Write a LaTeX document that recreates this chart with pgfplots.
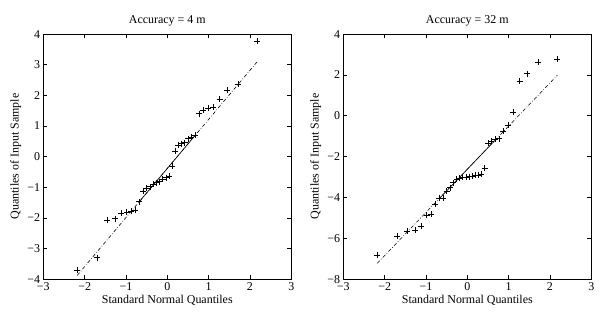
\documentclass[border=0pt]{standalone}
\usepackage{pgfplots}
\pgfplotsset{compat=1.18}
\usepackage{fontspec}
\setmainfont{Liberation Serif}
\begin{document}
\fontsize{12}{14}\selectfont
\begin{tikzpicture}
\pgfplotsset{
  qq/.style={
    scale only axis, width=248bp, height=245bp,
    xmin=-3, xmax=3,
    xtick={-3,-2,-1,0,1,2,3},
    xticklabels={−3,−2,−1,0,1,2,3},
    tick align=inside, xtick pos=both, ytick pos=both,
    major tick length=4bp,
    tick style={black, line width=0.5pt},
    axis line style={line width=0.6pt},
    xlabel={Standard Normal Quantiles},
    ylabel={Quantiles of Input Sample},
    xlabel style={yshift=3.5bp},
    ylabel style={yshift=-2bp},
    title style={yshift=-2bp},
    tick label style={font=\fontsize{12}{14}\selectfont},
    label style={font=\fontsize{12}{14}\selectfont},
    title style={font=\fontsize{12}{14}\selectfont},
    xticklabel style={yshift=1bp},
    yticklabel style={xshift=1bp, inner ysep=0pt, text height=8bp, text depth=0pt},
  },
  qqmark/.style={only marks, mark=+, mark size=3bp, black, mark options={line width=0.5pt}},
  qqsolid/.style={black, line width=0.6pt, no marks},
  qqdash/.style={black, line width=0.6pt, no marks, dash pattern=on 3.5bp off 2bp on 0.6bp off 2bp},
}
\path[use as bounding box] (-43.3bp,-34bp) rectangle (560.7bp,279bp);
\begin{axis}[qq, ymin=-4, ymax=4, ytick={-4,-3,-2,-1,0,1,2,3,4},
  yticklabels={−4,−3,−2,−1,0,1,2,3,4},
  title={Accuracy = 4 m}]
\addplot[qqdash] coordinates {(-2.178,-3.88) (2.178,3.10)};
\addplot[qqsolid] coordinates {(-0.674,-1.47) (0.674,0.69)};
\addplot[qqmark] coordinates {
(-2.178,-3.72) (-1.705,-3.30) (-1.450,-2.08) (-1.265,-2.03) (-1.115,-1.85)
(-0.987,-1.81) (-0.874,-1.78) (-0.770,-1.75) (-0.674,-1.47) (-0.584,-1.13)
(-0.499,-1.04) (-0.417,-0.98) (-0.338,-0.91) (-0.261,-0.85) (-0.185,-0.82)
(-0.111,-0.74) (-0.037,-0.69) (0.037,-0.64) (0.111,-0.31) (0.185,0.18)
(0.261,0.37) (0.338,0.42) (0.417,0.45) (0.499,0.58) (0.584,0.64)
(0.674,0.69) (0.770,1.40) (0.874,1.52) (0.987,1.59) (1.115,1.62)
(1.265,1.87) (1.450,2.17) (1.705,2.36) (2.178,3.77)
};
\end{axis}
\begin{axis}[qq, xshift=300bp, ymin=-8, ymax=4, ytick={-8,-6,-4,-2,0,2,4},
  yticklabels={−8,−6,−4,−2,0,2,4},
  title={Accuracy = 32 m}]
\addplot[qqdash] coordinates {(-2.178,-7.23) (2.178,1.98)};
\addplot[qqsolid] coordinates {(-0.674,-4.05) (0.674,-1.20)};
\addplot[qqmark] coordinates {
(-2.178,-6.82) (-1.705,-5.89) (-1.450,-5.66) (-1.265,-5.60) (-1.115,-5.40)
(-0.987,-4.88) (-0.874,-4.83) (-0.770,-4.34) (-0.674,-4.05) (-0.584,-4.03)
(-0.499,-3.69) (-0.417,-3.52) (-0.338,-3.28) (-0.261,-3.12) (-0.185,-3.05)
(-0.111,-3.02) (-0.037,-3.00) (0.037,-2.98) (0.111,-2.96) (0.185,-2.93)
(0.261,-2.90) (0.338,-2.85) (0.417,-2.58) (0.499,-1.35) (0.584,-1.24)
(0.674,-1.16) (0.770,-1.13) (0.874,-0.75) (0.987,-0.47) (1.115,0.18)
(1.265,1.70) (1.450,2.06) (1.705,2.63) (2.178,2.76)
};
\end{axis}
\end{tikzpicture}
\end{document}
